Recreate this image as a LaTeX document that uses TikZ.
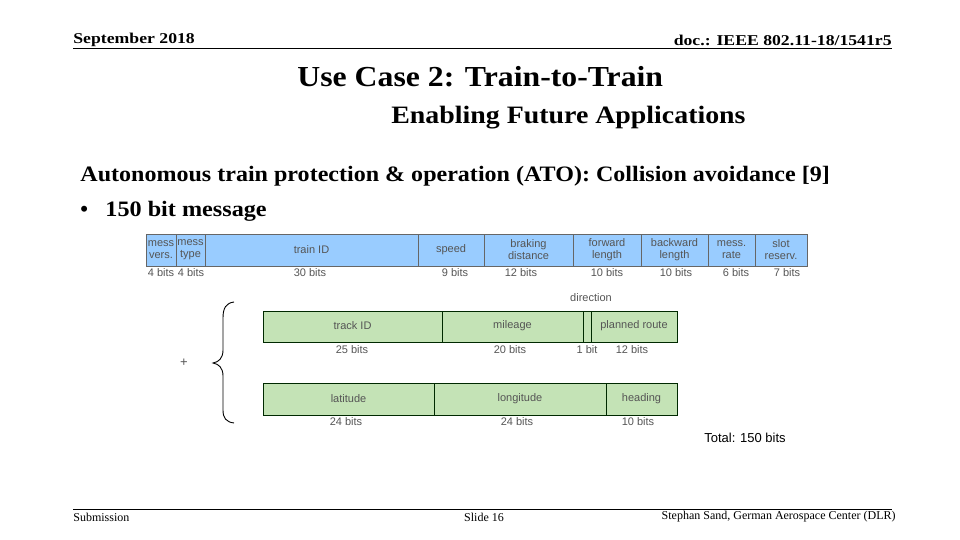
\documentclass[tikz,border=0pt]{standalone}
\usepackage{fontspec}
\setmainfont{Liberation Serif}
\setsansfont{Liberation Sans}
\definecolor{fieldblue}{RGB}{153,204,255}
\definecolor{fieldgreen}{RGB}{196,227,182}
\definecolor{fieldtext}{RGB}{85,85,85}
\tikzset{
  bluefield/.style={fill=fieldblue,draw=black!60},
  greenfield/.style={fill=fieldgreen,draw=black!60!green!40!black},
  fieldlabel/.style={font=\sffamily\fontsize{11}{12}\selectfont,text=fieldtext,align=center,inner sep=0pt},
  bitslabel/.style={font=\sffamily\fontsize{11}{12}\selectfont,text=fieldtext,inner sep=0pt},
  bodytext/.style={anchor=west,inner sep=0pt,font=\bfseries\fontsize{22}{26}\selectfont}
}
\begin{document}
\begin{tikzpicture}[x=1pt,y=-1pt,line width=0.8pt]
\useasboundingbox (0,0) rectangle (960,540);
% header and footer lines
\draw[line width=0.9] (73,48) -- (892,48);
\draw[line width=0.9] (73,509) -- (892,509);
\node[anchor=west,inner sep=0pt,font=\bfseries\fontsize{15}{16}\selectfont] (date) at (73,40) {\scalebox{1.18}[1]{September 2018}};
\node[anchor=east,inner sep=0pt,font=\bfseries\fontsize{15}{16}\selectfont] (doc) at (892,40) {\scalebox{1.18}[1]{doc.: IEEE 802.11-18/1541r5}};
\node[anchor=west,inner sep=0pt,font=\fontsize{12}{14}\selectfont] (sub) at (73,517) {Submission};
\node[inner sep=0pt,font=\fontsize{12}{14}\selectfont] (slide) at (484,517) {Slide 16};
\node[anchor=east,inner sep=0pt,font=\fontsize{12}{14}\selectfont] (author) at (896,517) {Stephan Sand, German Aerospace Center (DLR)};
% titles
\node[anchor=west,inner sep=0pt,font=\bfseries\fontsize{29}{32}\selectfont] (title) at (297,77) {\scalebox{1.095}[1]{Use Case 2: Train-to-Train}};
\node[anchor=west,inner sep=0pt,font=\bfseries\fontsize{25}{28}\selectfont] (subtitle) at (391,118) {\scalebox{1.115}[1]{Enabling Future Applications}};
\node[bodytext] (ato) at (80,176) {\scalebox{1.093}[1]{Autonomous train protection \& operation (ATO): Collision avoidance [9]}};
\node[bodytext] (bullet) at (80,211) {\textbullet};
\node[bodytext] (msg) at (105,211) {\scalebox{1.1}[1]{150 bit message}};
% message header (blue)
\foreach \xa/\xb/\txt in {146/176/{mess\\vers.},176/205/{mess\\type},205/418/{train ID},418/484/{speed},484/573/{braking\\distance},573/641/{forward\\length},641/708/{backward\\length},708/755/{mess.\\rate},755/807/{slot\\reserv.}}{
  \draw[bluefield] (\xa,234) rectangle (\xb,266);
  \node[fieldlabel] at ({(\xa+\xb)/2},250) {\txt};
}
\foreach \xc/\txt in {161/4 bits,191/4 bits,310/30 bits,455/9 bits,521/12 bits,607/10 bits,676/10 bits,736/6 bits,787/7 bits}
  \node[bitslabel] at (\xc,273) {\txt};
% track data (green)
\foreach \xa/\xb/\txt in {263/442/{track ID},442/583/{mileage},583/591/{},591/677/{planned route}}{
  \draw[greenfield] (\xa,311) rectangle (\xb,342);
  \node[fieldlabel] at ({(\xa+\xb)/2},326) {\txt};
}
\foreach \xc/\txt in {352/25 bits,510/20 bits,587/1 bit,632/12 bits}
  \node[bitslabel] at (\xc,350) {\txt};
\node[bitslabel] (dir) at (591,298) {direction};
% position data (green)
\foreach \xa/\xb/\txt in {263/434/{latitude},434/606/{longitude},606/677/{heading}}{
  \draw[greenfield] (\xa,383) rectangle (\xb,415);
  \node[fieldlabel] at ({(\xa+\xb)/2},399) {\txt};
}
\foreach \xc/\txt in {346/24 bits,517/24 bits,638/10 bits}
  \node[bitslabel] at (\xc,422) {\txt};
% brace and plus
\draw[line width=0.9] (234,302) .. controls (226,303) and (223,308) .. (223,318) -- (223,350)
  .. controls (223,358) and (219,362) .. (213,363) .. controls (219,364) and (223,368) .. (223,376)
  -- (223,410) .. controls (223,418) and (226,422) .. (234,423);
\node[font=\sffamily\fontsize{13}{14}\selectfont,text=fieldtext,inner sep=0pt] (plus) at (184,363) {+};
\node[font=\sffamily\fontsize{13}{14}\selectfont,inner sep=0pt] (total) at (745,438) {Total: 150 bits};
\end{tikzpicture}
\end{document}
